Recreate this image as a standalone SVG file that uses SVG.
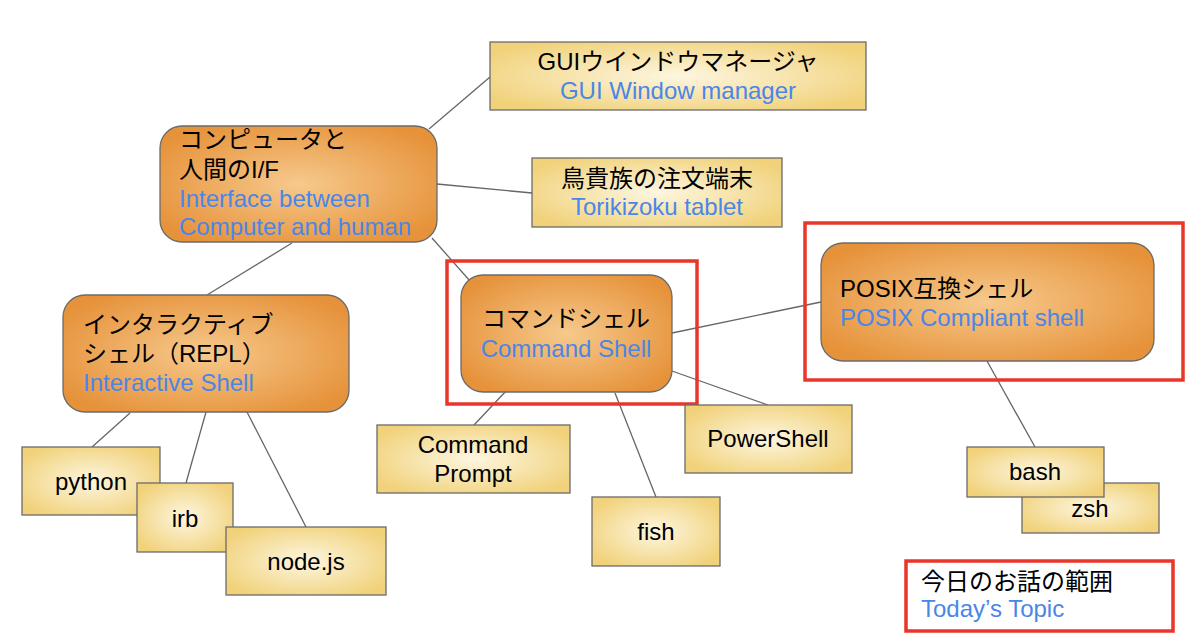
<svg xmlns="http://www.w3.org/2000/svg" width="1200" height="635" viewBox="0 0 1200 635">
<defs>
<radialGradient id="gOrange" cx="50%" cy="50%" r="60%">
<stop offset="0" stop-color="#f6c98c"/>
<stop offset="1" stop-color="#e6923a"/>
</radialGradient>
<radialGradient id="gYellow" cx="50%" cy="50%" r="60%">
<stop offset="0" stop-color="#fdf6e0"/>
<stop offset="1" stop-color="#f1d27a"/>
</radialGradient>
<style>
.orange{fill:url(#gOrange);stroke:#6b6b6b;stroke-width:1.3}
.yellow{fill:url(#gYellow);stroke:#6b6b6b;stroke-width:1.3}
.red{fill:none;stroke:#e8362a;stroke-width:3.5}
.t{font-family:"Liberation Sans","Noto Sans CJK JP",sans-serif;font-size:24px;fill:#000}
.b{font-family:"Liberation Sans","Noto Sans CJK JP",sans-serif;font-size:24px;fill:#4a86e8}
.c{text-anchor:middle}
.conn line{stroke:#666;stroke-width:1.3}
</style>
</defs>
<rect width="1200" height="635" fill="#fff"/>

<g id="connectors" class="conn">
<line x1="429" y1="129" x2="490" y2="77"/>
<line x1="437" y1="184" x2="532" y2="193"/>
<line x1="432" y1="238" x2="470" y2="281"/>
<line x1="292" y1="243" x2="207" y2="295"/>
<line x1="130" y1="413" x2="92" y2="447"/>
<line x1="206" y1="412" x2="186" y2="483"/>
<line x1="247" y1="412" x2="306" y2="527"/>
<line x1="507" y1="390" x2="474" y2="425"/>
<line x1="615" y1="393" x2="656" y2="497"/>
<line x1="672" y1="371" x2="768" y2="405"/>
<line x1="672" y1="333" x2="821" y2="302"/>
<line x1="987" y1="361" x2="1035" y2="447"/>
</g>

<g id="node-hci">
<rect class="orange" x="160" y="126" width="277" height="116" rx="22"/>
<text class="t" x="179" y="148">コンピュータと</text>
<text class="t" x="179" y="178">人間のI/F</text>
<text class="b" x="179" y="207">Interface between</text>
<text class="b" x="179" y="235">Computer and human</text>
</g>

<g id="node-gui">
<rect class="yellow" x="490" y="42" width="376" height="68"/>
<text class="t c" x="678" y="70">GUIウインドウマネージャ</text>
<text class="b c" x="678" y="99">GUI Window manager</text>
</g>

<g id="node-tori">
<rect class="yellow" x="532" y="158" width="250" height="69"/>
<text class="t c" x="657" y="187">鳥貴族の注文端末</text>
<text class="b c" x="657" y="215">Torikizoku tablet</text>
</g>

<g id="node-repl">
<rect class="orange" x="63" y="295" width="286" height="117" rx="22"/>
<text class="t" x="83" y="333">インタラクティブ</text>
<text class="t" x="83" y="362">シェル（REPL）</text>
<text class="b" x="83" y="391">Interactive Shell</text>
</g>

<g id="node-python">
<rect class="yellow" x="22" y="447" width="138" height="68"/>
<text class="t c" x="91" y="490">python</text>
</g>
<g id="node-irb">
<rect class="yellow" x="137" y="483" width="96" height="69"/>
<text class="t c" x="185" y="527">irb</text>
</g>
<g id="node-nodejs">
<rect class="yellow" x="226" y="527" width="160" height="68"/>
<text class="t c" x="306" y="570">node.js</text>
</g>

<g id="node-cmdshell">
<rect class="orange" x="461" y="275" width="211" height="117" rx="22"/>
<text class="t c" x="566" y="327">コマンドシェル</text>
<text class="b c" x="566" y="357">Command Shell</text>
</g>
<rect id="scope-cmdshell" class="red" x="447" y="261" width="250" height="143"/>

<g id="node-cmdprompt">
<rect class="yellow" x="377" y="425" width="193" height="68"/>
<text class="t c" x="473" y="453">Command</text>
<text class="t c" x="473" y="482">Prompt</text>
</g>
<g id="node-fish">
<rect class="yellow" x="592" y="497" width="128" height="69"/>
<text class="t c" x="656" y="540">fish</text>
</g>
<g id="node-powershell">
<rect class="yellow" x="685" y="405" width="167" height="68"/>
<text class="t c" x="768" y="447">PowerShell</text>
</g>

<g id="node-posix">
<rect class="orange" x="821" y="243" width="333" height="118" rx="22"/>
<text class="t" x="840" y="297">POSIX互換シェル</text>
<text class="b" x="840" y="326">POSIX Compliant shell</text>
</g>
<rect id="scope-posix" class="red" x="805" y="223" width="378" height="157"/>

<g id="node-zsh">
<rect class="yellow" x="1022" y="483" width="137" height="50"/>
<text class="t c" x="1090" y="517">zsh</text>
</g>
<g id="node-bash">
<rect class="yellow" x="967" y="447" width="137" height="50"/>
<text class="t c" x="1035" y="480">bash</text>
</g>

<g id="legend">
<rect class="red" x="906" y="561" width="267" height="70"/>
<text class="t" x="921" y="590">今日のお話の範囲</text>
<text class="b" x="921" y="617">Today’s Topic</text>
</g>
</svg>
